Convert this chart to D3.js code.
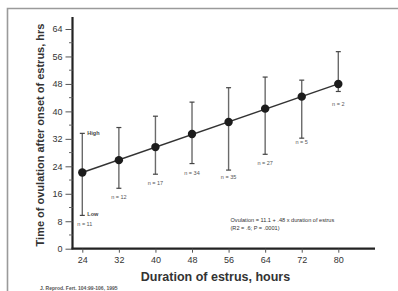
<!DOCTYPE html>
<html><head><meta charset="utf-8">
<script src="https://cdn.jsdelivr.net/npm/d3@7"></script>
<style>body{margin:0;background:#fff}svg{display:block}</style>
</head><body>
<script>
const durations = [24, 32, 40, 48, 56, 64, 72, 80];
const meanOvulation = [22.2, 25.8, 29.6, 33.4, 36.9, 40.8, 44.3, 48.0];
const highValues = [33.6, 35.3, 38.6, 42.7, 46.9, 50.0, 49.1, 57.4];
const lowValues = [9.7, 17.6, 21.7, 24.8, 22.9, 27.5, 32.2, 45.8];
const nLabels = ["n = 11", "n = 12", "n = 17", "n = 34", "n = 35", "n = 27", "n = 5", "n = 2"];
const nLabelY = [6.6, 14.6, 18.6, 21.5, 20.4, 24.3, 30.5, 41.5];
const fitX = [24, 80];
const fitY = [22.2, 48.0];
const yTicks = [0, 8, 16, 24, 32, 40, 48, 56, 64];
const yMinorTicks = [4, 12, 20, 28, 36, 44, 52, 60];
const xTicks = [24, 32, 40, 48, 56, 64, 72, 80];

const W = 398, H = 291;
const svg = d3.select("body").append("svg").attr("width", W).attr("height", H);

const x = d3.scaleLinear().domain([24, 80]).range([82.3, 338.3]);
const y = d3.scaleLinear().domain([0, 64]).range([248.7, 29]);
const x0 = 72.5, x1 = 375;

// frame
svg.append("path").attr("d", `M7.5,${H}V8.5H${W}`).attr("fill", "none")
  .attr("stroke", "#9a9a9a").attr("stroke-width", 1.6);

const font = "Liberation Sans, Arial, sans-serif";

// y axis
const yAxis = svg.append("g").attr("transform", `translate(${x0},0)`)
  .call(d3.axisLeft(y).tickValues(yTicks).tickSize(7).tickPadding(3));
yAxis.select(".domain").attr("d", `M0,${y(0)+0.5}V${y(67.5)}`).attr("stroke", "#222").attr("stroke-width", 2.2);
yAxis.selectAll(".tick line").attr("stroke", "#555").attr("stroke-width", 1);
yAxis.selectAll(".tick text").attr("font-family", font).attr("font-size", 9).attr("fill", "#333");
svg.append("g").selectAll("line").data(yMinorTicks).join("line")
  .attr("x1", x0 - 3.5).attr("x2", x0).attr("y1", d => y(d)).attr("y2", d => y(d))
  .attr("stroke", "#666").attr("stroke-width", 1);

// x axis
const xAxis = svg.append("g").attr("transform", `translate(0,${y(0)})`)
  .call(d3.axisBottom(x).tickValues(xTicks).tickSize(4).tickPadding(4));
xAxis.select(".domain").attr("d", `M${x0-1},0H${x1}`).attr("stroke", "#222").attr("stroke-width", 2.2);
xAxis.selectAll(".tick line").attr("stroke", "#555").attr("stroke-width", 1);
xAxis.selectAll(".tick text").attr("font-family", font).attr("font-size", 9).attr("fill", "#333");

// error bars
const eb = svg.append("g");
durations.forEach((d, i) => {
  eb.append("line").attr("x1", x(d)).attr("x2", x(d)).attr("y1", y(highValues[i])).attr("y2", y(lowValues[i]))
    .attr("stroke", "#6a6a6a").attr("stroke-width", 1.4);
  [highValues[i], lowValues[i]].forEach(v => {
    eb.append("line").attr("x1", x(d) - 2.5).attr("x2", x(d) + 2.5).attr("y1", y(v)).attr("y2", y(v))
      .attr("stroke", "#444").attr("stroke-width", 1.2);
  });
});

// fit line
svg.append("line").attr("x1", x(fitX[0])).attr("x2", x(fitX[1])).attr("y1", y(fitY[0])).attr("y2", y(fitY[1]))
  .attr("stroke", "#333").attr("stroke-width", 1.4);

// points
svg.append("g").selectAll("circle").data(durations).join("circle")
  .attr("cx", d => x(d)).attr("cy", (d, i) => y(meanOvulation[i])).attr("r", 4.2).attr("fill", "#1c1c1c");

// n labels
svg.append("g").selectAll("text").data(durations).join("text")
  .attr("x", (d, i) => i === 0 ? x(d) - 5 : x(d)).attr("y", (d, i) => y(nLabelY[i]))
  .attr("text-anchor", (d, i) => i === 0 ? "start" : "middle")
  .attr("font-family", font).attr("font-size", 5.5).attr("fill", "#555")
  .text((d, i) => nLabels[i]);

svg.append("text").attr("x", x(24) + 5).attr("y", y(highValues[0]) + 2).attr("font-family", font)
  .attr("font-size", 5.5).attr("font-weight", "bold").attr("fill", "#444").text("High");
svg.append("text").attr("x", x(24) + 5).attr("y", y(lowValues[0]) + 1).attr("font-family", font)
  .attr("font-size", 5.5).attr("font-weight", "bold").attr("fill", "#444").text("Low");

// equation
svg.append("text").attr("x", 230.5).attr("y", 222).attr("font-family", font).attr("font-size", 5.6).attr("fill", "#333")
  .text("Ovulation = 11.1 + .48 x duration of estrus");
svg.append("text").attr("x", 230.5).attr("y", 229.5).attr("font-family", font).attr("font-size", 5.6).attr("fill", "#333")
  .text("(R2 = .6; P = .0001)");

// axis titles
svg.append("text").attr("transform", "translate(44,135) rotate(-90)").attr("text-anchor", "middle")
  .attr("font-family", font).attr("font-weight", "bold").attr("font-size", 11).attr("fill", "#333")
  .text("Time of ovulation after onset of estrus, hrs");
svg.append("text").attr("x", 215.5).attr("y", 281).attr("text-anchor", "middle")
  .attr("font-family", font).attr("font-weight", "bold").attr("font-size", 12.5).attr("fill", "#333")
  .text("Duration of estrus, hours");

svg.append("text").attr("x", 40).attr("y", 290).attr("font-family", font).attr("font-size", 5)
  .attr("font-weight", "bold").attr("fill", "#555").text("J. Reprod. Fert. 104:99-106, 1995");
</script>
</body></html>
